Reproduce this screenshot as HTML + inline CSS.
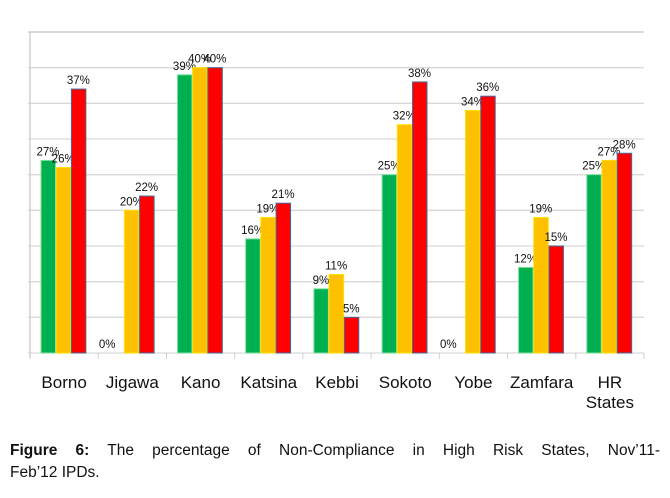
<!DOCTYPE html>
<html><head><meta charset="utf-8"><style>
body{margin:0;background:#fff;width:670px;height:498px;overflow:hidden;font-family:"Liberation Sans",sans-serif}
#cap{position:absolute;left:10px;top:440px;width:650px;font-size:15.5px;line-height:22px;color:#111}
#cap .l1{text-align:justify;text-align-last:justify}
</style></head><body>
<svg id="chart" width="670" height="430" style="position:absolute;left:0;top:0"></svg>
<div id="cap"><div class="l1"><b>Figure 6:</b> The percentage of Non-Compliance in High Risk States, Nov’11-</div><div>Feb’12 IPDs.</div></div>
<script>
const categories=["Borno","Jigawa","Kano","Katsina","Kebbi","Sokoto","Yobe","Zamfara","HR|States"];
const seriesGreen=[27,0,39,16,9,25,0,12,25];
const seriesYellow=[26,20,40,19,11,32,34,19,27];
const seriesRed=[37,22,40,21,5,38,36,15,28];
const yTicks=[0,5,10,15,20,25,30,35,40,45];
const NS="http://www.w3.org/2000/svg";
const svg=document.getElementById('chart');
const x0=30,x1=644,yB=353,yT=32,yMax=45;
const bw=(x1-x0)/categories.length;
const y=v=>yB-(v/yMax)*(yB-yT);
function mk(t,a){const e=document.createElementNS(NS,t);for(const k in a)e.setAttribute(k,a[k]);svg.appendChild(e);return e;}
yTicks.forEach(t=>{const g=mk('line',{x1:x0-2,x2:x1,y1:y(t),y2:y(t),stroke:'#d9d9d9','stroke-width':t===yMax?2:1.3});

});
const ax=mk('line',{x1:x0,x2:x0,y1:yT,y2:yB+5,stroke:'#d0d0d0','stroke-width':1.5});


for(let i=0;i<=categories.length;i++){const tk=mk('line',{x1:x0+i*bw,x2:x0+i*bw,y1:yB,y2:yB+6,stroke:'#d0d0d0'});

}
const series=[[seriesGreen,'#00b050','#7fe0a0'],[seriesYellow,'#ffc000','#ffe000'],[seriesRed,'#ff0000','#4a6a9a']];
categories.forEach((c,i)=>{
 const gx=x0+i*bw+11;
 series.forEach((s,j)=>{
  const v=s[0][i],bx=gx+j*15.2,by=y(v);
  if(v>0){const r=mk('rect',{x:bx,y:by,width:14.5,height:yB-by,fill:s[1],stroke:s[2],'stroke-width':1});
  
  }
  const t=mk('text',{x:v>0?bx+7:bx-2,y:by-5,'font-size':11.5,'text-anchor':'middle',fill:'#111'});
  t.textContent=v+'%';
  
  
 });
 const lines=c.split('|');
 lines.forEach((l,k)=>{const t=mk('text',{x:x0+i*bw+bw/2,y:388+k*20,'font-size':17,'text-anchor':'middle',fill:'#111'});
 t.textContent=l;
 
 });
});
</script>
</body></html>
